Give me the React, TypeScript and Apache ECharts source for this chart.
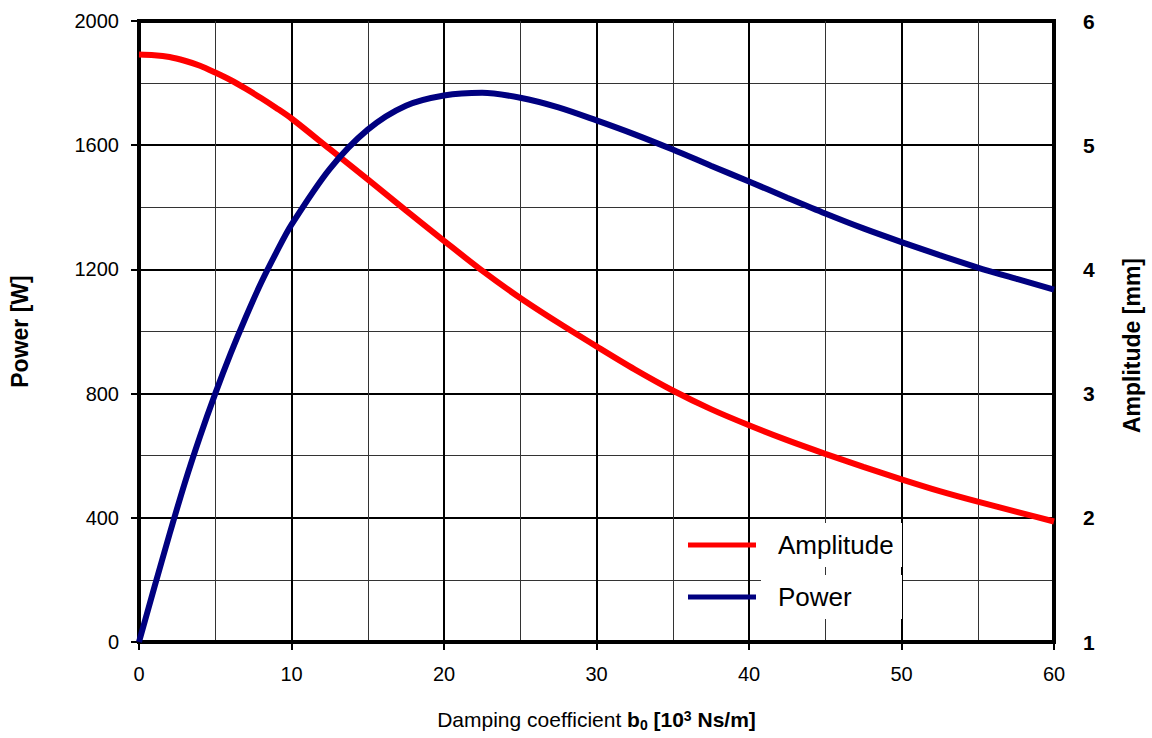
import React, { useEffect, useRef } from "react";
import * as echarts from "echarts";

const FONT = "'Liberation Sans', Arial, Helvetica, sans-serif";

// Damping coefficient b0 [10^3 Ns/m]
const bValues = [0, 1, 2, 3, 4, 5, 6, 7, 8, 9, 10, 12.5, 15, 17.5, 20, 22.5, 25, 27.5, 30, 32.5, 35, 37.5, 40, 42.5, 45, 47.5, 50, 52.5, 55, 57.5, 60];
// Power [W]
const powerW = [0, 175, 347, 512, 662, 800, 928, 1046, 1156, 1254, 1344, 1523, 1650, 1727, 1760, 1769, 1753, 1722, 1680, 1635, 1586, 1534, 1483, 1431, 1380, 1332, 1288, 1246, 1206, 1170, 1135];
// Amplitude [mm]
const amplitudeMm = [5.73, 5.725, 5.71, 5.68, 5.64, 5.585, 5.525, 5.455, 5.38, 5.3, 5.215, 4.97, 4.725, 4.475, 4.23, 3.99, 3.77, 3.57, 3.38, 3.195, 3.025, 2.875, 2.745, 2.625, 2.515, 2.41, 2.31, 2.215, 2.13, 2.05, 1.97];

const seriesNames = ["Amplitude", "Power"];
const seriesColors = ["#ff0000", "#000080"];

export default function App() {
  const ref = useRef<HTMLDivElement>(null);

  useEffect(() => {
    if (!ref.current) return;
    const chart = echarts.init(ref.current, undefined, { renderer: "svg" });
    const majorLine = { show: true, lineStyle: { color: "#000", width: 2 } };
    const minorLine = { show: true, lineStyle: { color: "#333", width: 1 } };
    chart.setOption({
      animation: false,
      backgroundColor: "#fff",
      textStyle: { fontFamily: FONT, color: "#000" },
      grid: {
        left: 139,
        right: 98,
        top: 21,
        bottom: 96,
        show: true,
        borderColor: "#000",
        borderWidth: 4,
        backgroundColor: "transparent",
      },
      legend: {
        orient: "vertical",
        left: 688,
        top: 523,
        padding: 0,
        itemGap: 8,
        itemWidth: 68,
        itemHeight: 5,
        icon: "rect",
        data: seriesNames,
        textStyle: {
          fontFamily: FONT,
          fontSize: 26,
          color: "#000",
          backgroundColor: "#fff",
          lineHeight: 26,
          width: 124,
          padding: [9, 0, 9, 17],
        },
      },
      xAxis: {
        type: "value",
        min: 0,
        max: 60,
        interval: 10,
        name: "{n|Damping coefficient }{b|b}{s|0}{b| [10}{p|3}{b| Ns/m]}",
        nameLocation: "middle",
        nameGap: 64,
        nameTextStyle: {
          fontFamily: FONT,
          color: "#000",
          rich: {
            n: { fontFamily: FONT, fontSize: 21, lineHeight: 26, color: "#000" },
            b: { fontFamily: FONT, fontSize: 21, lineHeight: 26, fontWeight: "bold", color: "#000" },
            s: { fontFamily: FONT, fontSize: 14, lineHeight: 14, fontWeight: "bold", verticalAlign: "bottom", color: "#000" },
            p: { fontFamily: FONT, fontSize: 14, lineHeight: 14, fontWeight: "bold", verticalAlign: "top", padding: [3, 0, 0, 0], color: "#000" },
          },
        },
        axisLine: { show: true, onZero: false, lineStyle: { color: "#000", width: 4 } },
        axisTick: { show: true, length: 8, lineStyle: { color: "#000", width: 2 } },
        axisLabel: { fontFamily: FONT, fontSize: 20, color: "#000", margin: 22 },
        splitLine: majorLine,
        minorTick: { show: false, splitNumber: 2 },
        minorSplitLine: minorLine,
      },
      yAxis: [
        {
          type: "value",
          min: 0,
          max: 2000,
          interval: 400,
          position: "left",
          name: "Power [W]",
          nameLocation: "middle",
          nameGap: 108,
          nameTextStyle: { fontFamily: FONT, fontSize: 23, fontWeight: "bold", color: "#000" },
          axisLine: { show: true, onZero: false, lineStyle: { color: "#000", width: 4 } },
          axisTick: { show: true, length: 8, lineStyle: { color: "#000", width: 2 } },
          axisLabel: {
            fontFamily: FONT,
            fontSize: 20,
            color: "#000",
            margin: 20,
            formatter: (v: number) => String(v),
          },
          splitLine: majorLine,
          minorTick: { show: false, splitNumber: 2 },
          minorSplitLine: minorLine,
        },
        {
          type: "value",
          min: 1,
          max: 6,
          interval: 1,
          position: "right",
          name: "Amplitude [mm]",
          nameLocation: "middle",
          nameGap: 66,
          nameTextStyle: { fontFamily: FONT, fontSize: 23, fontWeight: "bold", color: "#000", padding: [0, 28, 0, 0] },
          axisLine: { show: true, onZero: false, lineStyle: { color: "#000", width: 4 } },
          axisTick: { show: false },
          axisLabel: { fontFamily: FONT, fontSize: 21, fontWeight: "bold", color: "#000", margin: 29 },
          splitLine: { show: false },
        },
      ],
      series: [
        {
          name: seriesNames[0],
          type: "line",
          yAxisIndex: 1,
          data: bValues.map((b, i) => [b, amplitudeMm[i]]),
          showSymbol: false,
          symbol: "none",
          smooth: 0.3,
          color: seriesColors[0],
          lineStyle: { color: seriesColors[0], width: 6 },
          z: 3,
        },
        {
          name: seriesNames[1],
          type: "line",
          yAxisIndex: 0,
          data: bValues.map((b, i) => [b, powerW[i]]),
          showSymbol: false,
          symbol: "none",
          smooth: 0.3,
          color: seriesColors[1],
          lineStyle: { color: seriesColors[1], width: 6 },
          z: 4,
        },
      ],
    });
    return () => chart.dispose();
  }, []);

  return (
    <div
      ref={ref}
      style={{ position: "absolute", left: 0, top: 0, width: 1152, height: 738, background: "#fff" }}
    />
  );
}
